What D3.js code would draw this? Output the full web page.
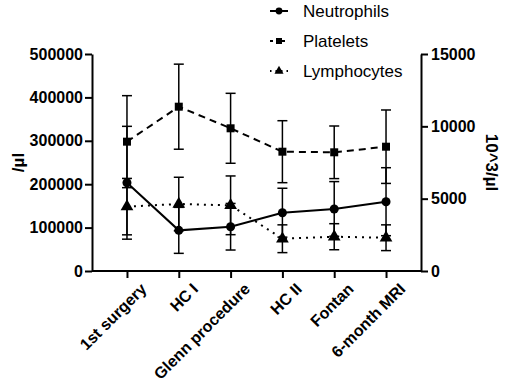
<!DOCTYPE html>
<html>
<head>
<meta charset="utf-8">
<script src="https://cdn.jsdelivr.net/npm/d3@7"></script>
<style>
  body { margin: 0; background: #fff; }
  svg { display: block; font-family: Arial, "Liberation Sans", sans-serif; }
</style>
</head>
<body>
<div id="chart"></div>
<script>
// categories (time points)
const categories = ["1st surgery", "HC I", "Glenn procedure", "HC II", "Fontan", "6-month MRI"];

// platelets, left axis (/µl)
const plateletMean = [298000, 378600, 328800, 274900, 273500, 286400];
const plateletSD = [106000, 98000, 80600, 71400, 60600, 84600];

// neutrophils and lymphocytes, right axis (10^3/µl)
const neutroMean = [6100, 2810, 3060, 4030, 4290, 4790];
const neutroSD = [3900, 1590, 1610, 1690, 1890, 2350];
const lymphoMean = [4450, 4630, 4540, 2230, 2370, 2300];
const lymphoSD = [1950, 1850, 2030, 960, 900, 890];

const leftTicks = [0, 100000, 200000, 300000, 400000, 500000];
const rightTicks = [0, 5000, 10000, 15000];

const width = 510, height = 389;
const plot = { left: 92, right: 421, top: 54, bottom: 271 };

const svg = d3.select("#chart").append("svg")
    .attr("width", width)
    .attr("height", height);

const x = d3.scalePoint()
    .domain(categories)
    .range([plot.left, plot.right])
    .padding(0.675);

const yL = d3.scaleLinear().domain([0, 500000]).range([plot.bottom, plot.top]);
const yR = d3.scaleLinear().domain([0, 15000]).range([plot.bottom, plot.top]);

// axes
const axisLeft = svg.append("g")
    .attr("transform", `translate(${plot.left},0)`)
    .call(d3.axisLeft(yL).tickValues(leftTicks).tickFormat(d3.format("d")).tickSize(7).tickSizeOuter(0).tickPadding(2));

const axisRight = svg.append("g")
    .attr("transform", `translate(${plot.right},0)`)
    .call(d3.axisRight(yR).tickValues(rightTicks).tickFormat(d3.format("d")).tickSize(7).tickSizeOuter(0).tickPadding(3));

const axisBottom = svg.append("g")
    .attr("transform", `translate(0,${plot.bottom})`)
    .call(d3.axisBottom(x).tickSize(7).tickSizeOuter(0));

axisBottom.select(".domain").attr("d", `M${plot.left},0H${plot.right}`);

axisBottom.selectAll(".tick text")
    .attr("text-anchor", "end")
    .attr("transform", "translate(5,4) rotate(-45)")
    .attr("dy", "0.7em")
    .attr("dx", "0");

[axisLeft, axisRight, axisBottom].forEach(g => {
    g.selectAll(".domain, .tick line").attr("stroke", "#000").attr("stroke-width", 2);
    g.selectAll(".tick text")
        .attr("fill", "#000")
        .attr("font-size", 16)
        .attr("font-weight", "bold")
        .attr("font-family", "Arial, 'Liberation Sans', sans-serif");
});

// axis titles
svg.append("text")
    .attr("transform", `translate(24,${(plot.top + plot.bottom) / 2}) rotate(-90)`)
    .attr("text-anchor", "middle")
    .attr("font-size", 17)
    .attr("font-weight", "bold")
    .text("/µl");

svg.append("text")
    .attr("transform", `translate(486,${(plot.top + plot.bottom) / 2}) rotate(90)`)
    .attr("text-anchor", "middle")
    .attr("font-size", 17)
    .attr("font-weight", "bold")
    .text("10^3/µl");

// series
const series = [
    { name: "Neutrophils", mean: neutroMean, sd: neutroSD, y: yR, dash: null, marker: "circle" },
    { name: "Platelets", mean: plateletMean, sd: plateletSD, y: yL, dash: "7,5", marker: "square" },
    { name: "Lymphocytes", mean: lymphoMean, sd: lymphoSD, y: yR, dash: "2,5", marker: "triangle" }
];

const symbols = {
    circle: d3.symbol(d3.symbolCircle, 64),
    square: d3.symbol(d3.symbolSquare, 64),
    triangle: d3.symbol(d3.symbolTriangle, 70)
};

const capW = 5;

series.forEach(s => {
    const pts = categories.map((c, i) => ({ c, m: s.mean[i], sd: s.sd[i] }));
    const g = svg.append("g");

    // error bars
    const eb = g.append("g").attr("stroke", "#000").attr("stroke-width", 1.5);
    pts.forEach(p => {
        const cx = x(p.c), top = s.y(p.m + p.sd), bot = s.y(p.m - p.sd);
        eb.append("line").attr("x1", cx).attr("x2", cx).attr("y1", top).attr("y2", bot);
        eb.append("line").attr("x1", cx - capW).attr("x2", cx + capW).attr("y1", top).attr("y2", top);
        eb.append("line").attr("x1", cx - capW).attr("x2", cx + capW).attr("y1", bot).attr("y2", bot);
    });

    const line = d3.line().x(p => x(p.c)).y(p => s.y(p.m));
    g.append("path")
        .datum(pts)
        .attr("fill", "none")
        .attr("stroke", "#000")
        .attr("stroke-width", 2)
        .attr("stroke-dasharray", s.dash)
        .attr("d", line);

    g.selectAll(".pt")
        .data(pts)
        .join("path")
        .attr("transform", p => `translate(${x(p.c)},${s.y(p.m)})`)
        .attr("d", symbols[s.marker])
        .attr("fill", "#000");
});

// legend
const legend = svg.append("g")
    .selectAll("g")
    .data(series)
    .join("g")
    .attr("transform", (d, i) => `translate(270,${11 + i * 30})`);

legend.append("line")
    .attr("x1", 0).attr("x2", 18)
    .attr("stroke", "#000")
    .attr("stroke-width", 2)
    .attr("stroke-dasharray", d => d.dash ? (d.marker === "square" ? "3,3" : "1.5,4") : null);

legend.append("path")
    .attr("transform", "translate(9,0)")
    .attr("d", d => d3.symbol(d.marker === "circle" ? d3.symbolCircle : d.marker === "square" ? d3.symbolSquare : d3.symbolTriangle, 36)())
    .attr("fill", "#000");

legend.append("text")
    .attr("x", 33)
    .attr("dy", "0.35em")
    .attr("font-size", 17)
    .text(d => d.name);
</script>
</body>
</html>
